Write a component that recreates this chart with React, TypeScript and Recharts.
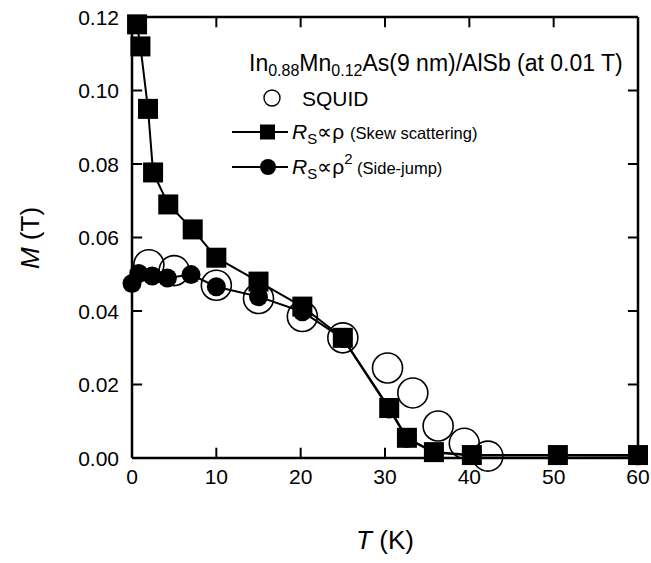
import React from 'react';
import { ScatterChart, Scatter, XAxis, YAxis, ReferenceLine } from 'recharts';

// temperature (K) / magnetization (T)
const tTicks = [0, 10, 20, 30, 40, 50, 60];
const mTicks = [0, 0.02, 0.04, 0.06, 0.08, 0.1, 0.12];

const squidT = [2, 5, 10, 15, 20.2, 25, 30.3, 33.3, 36.3, 39.4, 42.2];
const squidM = [0.0526, 0.051, 0.047, 0.0434, 0.0385, 0.0327, 0.0245, 0.0177, 0.0087, 0.004, 0.0005];

const skewT = [0.6, 1.0, 1.9, 2.5, 4.3, 7.2, 10, 15, 20.2, 25, 30.5, 32.6, 35.8, 40.3, 50.5, 60];
const skewM = [0.118, 0.112, 0.095, 0.0777, 0.069, 0.0622, 0.0545, 0.048, 0.0412, 0.0327, 0.0136, 0.0055, 0.0016, 0.0008, 0.0008, 0.0008];

const sideT = [0, 0.8, 2.4, 4.2, 7, 10, 15, 20.2, 25, 30.5, 32.6, 35.8, 40.3, 50.5, 60];
const sideM = [0.0475, 0.0502, 0.0495, 0.049, 0.0499, 0.0466, 0.0439, 0.0398, 0.0325, 0.0133, 0.0053, 0.0015, 0.0007, 0.0007, 0.0006];

const zip = (ts: number[], ms: number[]) => ts.map((t, i) => ({ t, m: ms[i] }));
const squid = zip(squidT, squidM);
const skew = zip(skewT, skewM);
const side = zip(sideT, sideM);

const FONT = '"Liberation Sans", Arial, Helvetica, sans-serif';
const W = 643;
const H = 547;
const TICK_FS = 21;
// inward tick length, in data units (about 10 px)
const TICK_T = 1.2;
const TICK_M = 0.0028;

const OpenCircle = (p: any) => (
  <circle cx={p.cx} cy={p.cy} r={15} fill="none" stroke="#000" strokeWidth={1.6} />
);
const FilledCircle = (p: any) => <circle cx={p.cx} cy={p.cy} r={9.5} fill="#000" />;
const Square = (p: any) => <rect x={p.cx - 10} y={p.cy - 10} width={20} height={20} fill="#000" />;

const BottomTick = (p: any) => (
  <text x={p.x} y={p.y} dy="0.72em" textAnchor="middle" fontSize={TICK_FS} fontFamily={FONT} fill="#000">
    {p.payload.value}
  </text>
);
const LeftTick = (p: any) => (
  <text x={p.x} y={p.y} dy="0.36em" textAnchor="end" fontSize={TICK_FS} fontFamily={FONT} fill="#000">
    {Number(p.payload.value).toFixed(2)}
  </text>
);

const axisLine = { stroke: '#000', strokeWidth: 2.5 };
const tickStroke = { stroke: '#000', strokeWidth: 2, ifOverflow: 'visible' as const };

export default function App() {
  return (
    <div style={{ padding: 8, width: W, height: H }}>
      <style>
        {'body { margin: 0; } .recharts-surface, .recharts-wrapper { overflow: visible !important; }'}
      </style>
      <div style={{ position: 'relative', width: W, height: H, fontFamily: FONT }}>
        <ScatterChart width={W} height={H} margin={{ top: 8, right: 12, bottom: 0, left: 0 }}>
          <XAxis
            type="number"
            dataKey="t"
            domain={[0, 60]}
            ticks={tTicks}
            height={97}
            tickSize={0}
            tickMargin={11}
            tick={BottomTick}
            tickLine={false}
            axisLine={axisLine}
          />
          <XAxis
            xAxisId="top"
            type="number"
            dataKey="t"
            orientation="top"
            domain={[0, 60]}
            ticks={tTicks}
            height={1}
            tick={false}
            tickLine={false}
            axisLine={axisLine}
          />
          <YAxis
            type="number"
            dataKey="m"
            domain={[0, 0.12]}
            ticks={mTicks}
            width={124}
            tickSize={0}
            tickMargin={13}
            tick={LeftTick}
            tickLine={false}
            axisLine={axisLine}
          />
          <YAxis
            yAxisId="right"
            type="number"
            dataKey="m"
            orientation="right"
            domain={[0, 0.12]}
            ticks={mTicks}
            width={1}
            tick={false}
            tickLine={false}
            axisLine={axisLine}
          />

          {tTicks.slice(1, -1).map((t) => (
            <ReferenceLine key={`b${t}`} segment={[{ x: t, y: 0 }, { x: t, y: TICK_M }]} {...tickStroke} />
          ))}
          {tTicks.slice(1, -1).map((t) => (
            <ReferenceLine key={`t${t}`} segment={[{ x: t, y: 0.12 }, { x: t, y: 0.12 - TICK_M }]} {...tickStroke} />
          ))}
          {mTicks.slice(1, -1).map((m) => (
            <ReferenceLine key={`l${m}`} segment={[{ x: 0, y: m }, { x: TICK_T, y: m }]} {...tickStroke} />
          ))}
          {mTicks.slice(1, -1).map((m) => (
            <ReferenceLine key={`r${m}`} segment={[{ x: 60, y: m }, { x: 60 - TICK_T, y: m }]} {...tickStroke} />
          ))}

          <Scatter data={squid} shape={OpenCircle} isAnimationActive={false} />
          <Scatter
            data={side}
            shape={FilledCircle}
            line={{ stroke: '#000', strokeWidth: 2 }}
            lineType="joint"
            isAnimationActive={false}
          />
          <Scatter
            data={skew}
            shape={Square}
            line={{ stroke: '#000', strokeWidth: 2 }}
            lineType="joint"
            isAnimationActive={false}
          />
        </ScatterChart>

        {/* legend and axis titles */}
        <svg
          width={W}
          height={H}
          style={{ position: 'absolute', left: 0, top: 0, pointerEvents: 'none', overflow: 'visible' }}
          fontFamily={FONT}
        >
          <text x={241} y={63} fontSize={23}>
            In<tspan fontSize={16} dy={5}>0.88</tspan>
            <tspan dy={-5}>Mn</tspan>
            <tspan fontSize={16} dy={5}>0.12</tspan>
            <tspan dy={-5}>As(9 nm)/AlSb (at 0.01 T)</tspan>
          </text>

          <circle cx={264} cy={90} r={8} fill="none" stroke="#000" strokeWidth={1.4} />
          <text x={294} y={98} fontSize={21}>SQUID</text>

          <line x1={224} y1={124} x2={280} y2={124} stroke="#000" strokeWidth={2} />
          <rect x={252} y={116.5} width={15} height={15} fill="#000" />
          <text x={284} y={131} fontSize={21}>
            <tspan fontStyle="italic">R</tspan>
            <tspan fontSize={15} dy={5}>S</tspan>
            <tspan dy={-5}>∝ρ </tspan>
            <tspan fontSize={16.5}>(Skew scattering)</tspan>
          </text>

          <line x1={224} y1={159} x2={280} y2={159} stroke="#000" strokeWidth={2} />
          <circle cx={260} cy={159} r={8} fill="#000" />
          <text x={284} y={166} fontSize={21}>
            <tspan fontStyle="italic">R</tspan>
            <tspan fontSize={15} dy={5}>S</tspan>
            <tspan dy={-5}>∝ρ</tspan>
            <tspan fontSize={15} dy={-10}>2</tspan>
            <tspan fontSize={16.5} dy={10}> (Side-jump)</tspan>
          </text>

          <text
            x={0}
            y={0}
            fontSize={26}
            textAnchor="middle"
            transform="translate(31 230) rotate(-90)"
          >
            <tspan fontStyle="italic">M</tspan>
            <tspan> (T)</tspan>
          </text>
          <text x={377} y={541} fontSize={26} textAnchor="middle">
            <tspan fontStyle="italic">T</tspan>
            <tspan> (K)</tspan>
          </text>
        </svg>
      </div>
    </div>
  );
}
